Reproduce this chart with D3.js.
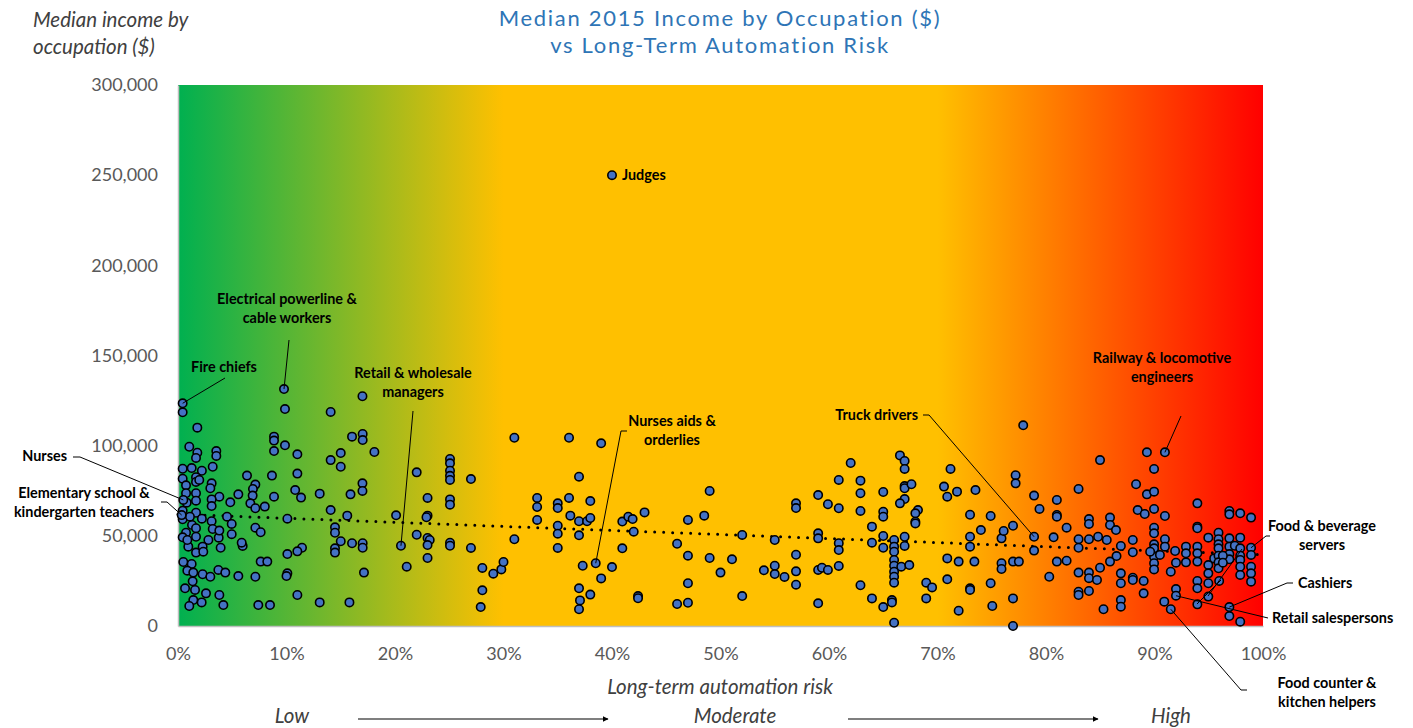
<!DOCTYPE html>
<html>
<head>
<meta charset="utf-8">
<script src="https://cdn.jsdelivr.net/npm/d3@7"></script>
<style>
  body { margin: 0; background: #fff; }
  text { font-family: Lato, "Open Sans", sans-serif; }
</style>
</head>
<body>
<script>
// [automation risk %, median income in $1000]
const lowRisk = [
  [0.43,123.5],[0.43,118.5],[9.77,131.4],[9.86,120.3],[17.0,127.4],[14.07,118.7],[1.78,110],[8.85,105],[8.85,102.8],[9.86,100.2],
  [8.85,97],[11.0,95.2],[3.53,97],[3.53,94.3],[1.78,96.1],[1.66,93.2],[1.04,99.4],[16.04,105],[17.02,106.5],[17.02,103.1],
  [18.1,96.5],[14.07,92],[15.0,95.9],[15.0,88.3],[3.2,88.3],[0.43,87.2],[1.26,87.6],[2.2,86.1],[0.43,81.7],[1.66,82.5],
  [1.66,79.9],[1.96,81],[0.74,78],[3.1,79.1],[2.98,76.4],[6.36,83.4],[8.66,83.4],[11.0,84.5],[7.13,78.4],[6.91,76],
  [10.8,75.4],[11.34,71.2],[13.06,73.4],[15.9,73],[17.0,79.1],[17.0,74.9],[8.85,71.7],[6.88,72.3],[5.56,73],[3.81,71.7],
  [3.1,70.2],[3.1,66.5],[0.74,73.6],[1.66,73.6],[0.8,68.4],[1.66,69.5],[4.82,68.6],[6.67,68],[7.13,65.3],[8.0,66.2],
  [14.07,64.3],[0.43,63.9],[1.66,62.8],[4.52,60.6],[10.08,59.5],[15.6,61.2],[20.1,61.4],[0.43,59.2],[2.2,59.5],[3.1,58.1],
  [4.95,56.6],[1.29,56],[1.66,54.2],[3.2,53.8],[7.13,54.5],[7.62,52],[14.47,54.7],[14.47,51.7],[0.74,51.7],[1.66,49.5],
  [0.43,49.2],[2.8,47.7],[3.75,49],[4.95,50.9],[0.95,44],[2.27,44],[3.93,43.4],[5.96,44.4],[5.87,46.2],[15.0,47],
  [16.04,45.9],[17.02,45.9],[17.02,43.4],[14.47,43.1],[14.47,40.7],[11.43,43.4],[11.0,41.4],[10.08,39.9],[1.66,40.7],[2.33,41.2],
  [0.49,35.5],[1.26,34.4],[0.86,30.7],[1.41,29.6],[7.62,35.7],[8.23,35.7],[2.27,28.7],[2.98,27.3],[3.72,31.1],[4.36,29.6],
  [5.56,27.7],[7.13,27.3],[10.08,29.2],[10.0,27.7],[17.14,29.6],[1.35,24.8],[0.65,20.9],[1.57,20],[2.58,18.1],[3.81,17.2],
  [11.0,17.2],[1.41,14.4],[1.04,11.1],[2.18,13.1],[4.18,11.6],[7.4,11.6],[8.48,11.6],[13.06,13.1],[15.8,13.1],
  [0.49,69.9],[1.1,60.6],[0.86,47.7],[3.81,52.9],[0.34,61.5],
  [20.55,44.5],[21.08,32.9],[22.0,85.2],[22.0,50.6],[23.0,71],[23.0,61.2],[22.9,60.3],[23.0,48.8],[23.2,47.7],[23.0,44.9],
  [23.0,37.7],[25.07,92.6],[25.07,90.2],[25.07,86.1],[25.07,83.3],[25.07,81],[25.07,70.2],[25.07,67.3],[25.07,46.2],[25.07,44.5],
  [27.0,81.5],[27.0,43.3],[28.05,32.2],[28.05,19.8],[27.9,10.5],[29.06,29]
];

const moderateRisk = [
  [29.8,31.4],[30.0,35.5],[31.0,104.4],[31.0,48.1],[33.1,71],[33.1,66],[33.1,58.8],[35.0,68],[35.0,65.4],[35.0,55.6],
  [35.0,51.2],[35.0,43.3],[36.04,104.4],[36.04,71],[36.16,61.2],[36.96,82.8],[36.96,58.1],[36.96,50.3],[37.7,58.1],[38.0,69.3],
  [38.0,59.9],[39.0,101.3],[37.3,33.4],[38.5,34.8],[39.0,26.4],[40.0,32.7],[36.96,20.9],[38.0,17.4],[37.05,14.2],[36.96,9.3],
  [40.0,250],
  [40.95,57.9],[41.5,60.6],[41.9,59.3],[42.0,52.3],[40.95,43.1],[43.0,63],[42.4,16.6],[42.4,15.4],[46.0,45.6],[46.0,12.2],
  [47.0,58.8],[47.0,39],[47.0,23.7],[47.0,12.9],[48.5,61.2],[49.0,74.9],[49.0,37.7],[50.0,29.6],[51.06,37],[52.0,50.5],
  [52.0,16.6],[54.0,30.9],[55.0,47.7],[55.0,33.4],[55.0,28.8],[55.9,27.2],[56.96,68],[56.96,65.4],[56.96,39.5],[56.96,30.3],
  [56.96,22.9],
  [59.0,72.6],[59.9,67.5],[60.9,81],[60.9,65.3],[59.0,51.4],[59.0,48.6],[59.0,31.1],[59.35,32.3],[59.9,31.1],[59.0,12.6],
  [60.9,45.9],[60.9,42.1],[60.9,33.3],
  [62.0,90.4],[62.9,80.6],[62.9,73.6],[62.9,63.8],[62.9,22.6],[63.96,55.1],[63.96,46.2],[63.96,15.3],[65.0,74.3],[65.0,63.4],
  [65.0,60.6],[65.0,49.9],[65.0,43.4],[65.0,10.5],[65.8,14.4],[65.8,13.1],[66.54,94.6],[66.97,91.5],[66.97,87.1],[66.97,77.6],
  [66.97,76.4],[67.6,78.6],[66.97,70.4],[66.54,68],[68.2,64.3],[67.96,62.5],[67.96,57.8],[67.96,56.9],[66.0,47.7],[66.0,44],
  [66.0,41.2],[66.0,36.6],[66.0,33.4],[66.0,30.1],[66.0,27.3],[66.0,24],[66.97,49.5],[66.97,44.4],[66.66,32.9],[67.4,33.8],
  [66.0,1.8],[68.96,24],[69.5,21.4],[68.96,15.3]
];

const highRisk = [
  [70.6,77.3],[70.9,71.7],[71.2,87.1],[71.8,74.5],[73.5,75.4],[70.9,37.5],[70.9,25.9],[71.95,35.7],[71.95,8.5],[73.0,61.7],
  [73.0,49.5],[73.0,44],[73.4,35.7],[73.0,20.9],[73.0,20],[74.0,53.2],[74.9,61],[74.9,23.7],[75.05,11.1],[75.9,48.6],
  [75.9,34.8],[75.9,31.6],[76.1,52.7],[76.96,55.6],[77.2,83.6],[77.2,79.1],[76.96,35.7],[77.5,35.7],[76.96,15.3],[76.96,0],
  [77.9,111.3],[78.9,72.3],[79.4,64.9],[78.9,49.5],[78.9,41.8],[80.3,27.3],[80.7,49.2],[81.0,69.9],[81.0,61.6],[81.0,60.6],
  [81.0,35.7],
  [81.9,54.5],[81.9,36.2],[83.0,76],[83.0,48.1],[83.0,43.4],[83.0,29.6],[83.0,19],[83.0,17.2],[83.96,59.3],[83.96,56.6],
  [83.96,48.1],[83.96,29.6],[83.96,26.5],[83.96,19.4],[84.7,25.5],[84.8,49.5],[84.98,92],[84.98,32.3],[85.3,9.3],[85.6,47.7],
  [85.9,60.1],[85.9,56],[86.45,53.2],[85.9,35.7],[86.5,38.8],[86.9,44.4],[86.9,29.2],[86.9,23.7],[86.9,14.4],[86.9,10.7],
  [88.0,47.7],[88.0,40.9],[88.0,26.8],[88.0,25.5],[88.3,78.6],[88.45,64.3],[89.1,62.1],[89.0,25],[89.0,18.1],[89.3,96.3],
  [89.3,73],[89.96,87.1],[89.96,74.5],[89.96,64.9],[89.96,54.5],[89.96,51.4],[89.96,45.3],[89.96,43.1],[89.96,38.4],[89.96,34.8],
  [89.96,31.4],[89.6,41.2],[90.5,39.4],[90.96,96.3],[90.96,61],[90.96,48.1],[90.96,44],[90.9,13.5],[91.5,30.1],[91.5,9.3],
  [91.9,41.6],[91.98,35.1],[91.98,20.5],[91.98,16.8],[92.9,44],[92.9,40.3],[92.9,35.3],[93.95,68],[93.95,55.1],[93.95,54.2],
  [93.95,44],[93.95,40.3],[93.95,35.7],[93.95,25],[93.95,20.9],[93.95,12],[94.96,49],[94.96,33.8],[94.96,29.2],[94.96,23.7],
  [94.96,16.3],[95.5,37.5],[95.9,51.7],[95.9,48.1],[95.9,45.3],[95.9,43.1],[95.9,39],[95.9,35.3],[95.9,32],[95.96,25],
  [96.9,63.8],[96.9,61.9],[96.9,48.6],[96.9,44],[96.9,39.9],[96.9,37],[96.3,39],[96.3,35.1],[97.4,44.5],[96.9,10.5],
  [96.9,5.5],[97.9,62.5],[97.9,49],[97.9,43.1],[97.9,39],[97.9,36.6],[97.9,32.9],[97.9,28.3],[97.9,2.4],[98.9,60.1],
  [98.9,43.4],[98.9,39.4],[98.9,32.9],[98.9,29.2],[98.9,24.6]
];

// linear trend: [risk %, income $1000]
const trend = [[0, 62], [100, 39.5]];

const yTicks = [0, 50000, 100000, 150000, 200000, 250000, 300000];
const xTicks = [0, 10, 20, 30, 40, 50, 60, 70, 80, 90, 100];
const bands = ['Low', 'Moderate', 'High'];

// labelled occupations: the point they refer to
const labelled = [
  { name: ['Fire chiefs'], risk: 0.43, income: 123.5 },
  { name: ['Electrical powerline &', 'cable workers'], risk: 9.77, income: 131.4 },
  { name: ['Retail & wholesale', 'managers'], risk: 20.55, income: 44.5 },
  { name: ['Nurses'], risk: 0.49, income: 69.9 },
  { name: ['Elementary school &', 'kindergarten teachers'], risk: 0.34, income: 61.5 },
  { name: ['Judges'], risk: 40.0, income: 250 },
  { name: ['Nurses aids &', 'orderlies'], risk: 38.5, income: 34.8 },
  { name: ['Truck drivers'], risk: 78.9, income: 49.5 },
  { name: ['Railway & locomotive', 'engineers'], risk: 90.96, income: 96.3 },
  { name: ['Food & beverage', 'servers'], risk: 98.9, income: 43.4 },
  { name: ['Cashiers'], risk: 96.9, income: 10.5 },
  { name: ['Retail salespersons'], risk: 91.98, income: 16.8 },
  { name: ['Food counter &', 'kitchen helpers'], risk: 91.5, income: 9.3 }
];

// where each label sits and how its leader bends (pixels)
const labelLayout = [
  { x: 224, y: 367, anchor: 'middle', leader: [[225, 378]] },
  { x: 287, y: 299, anchor: 'middle', leader: [[289, 340]] },
  { x: 413, y: 373, anchor: 'middle', leader: [[413, 411]] },
  { x: 67, y: 456, anchor: 'end', leader: [[73, 457], [80, 457]] },
  { x: 84, y: 493, anchor: 'middle', leader: [[161, 502], [167, 502]] },
  { x: 622, y: 175, anchor: 'start', leader: null },
  { x: 672, y: 421, anchor: 'middle', leader: [[627, 431], [621, 431]] },
  { x: 918, y: 415, anchor: 'end', leader: [[923, 415], [929, 415]] },
  { x: 1162, y: 358, anchor: 'middle', leader: [[1181, 416]] },
  { x: 1322, y: 526, anchor: 'middle', leader: [[1270, 536], [1266, 536]] },
  { x: 1298, y: 583, anchor: 'start', leader: [[1293, 583], [1287, 583]] },
  { x: 1272, y: 618, anchor: 'start', leader: [[1268, 618]] },
  { x: 1327, y: 683, anchor: 'middle', leader: [[1247, 690], [1241, 690]] }
];

const svgWidth = 1413;
const svgHeight = 728;
const plot = { left: 178, right: 1263, top: 85, bottom: 626 };

const svg = d3.select('body')
              .append('svg')
              .attr('width', svgWidth)
              .attr('height', svgHeight);

const scaleX = d3.scaleLinear().domain([0, 100]).range([plot.left, plot.right]);
const scaleY = d3.scaleLinear().domain([0, 300000]).range([plot.bottom, plot.top]);

// background gradient green -> amber -> red
const grad = svg.append('defs')
                .append('linearGradient')
                .attr('id', 'riskGrad')
                .attr('x1', 0).attr('x2', 1).attr('y1', 0).attr('y2', 0);
[[0, '#00B050'], [0.3, '#FFC000'], [0.7, '#FFC000'], [1, '#FF0000']].forEach(s => {
  grad.append('stop').attr('offset', s[0]).attr('stop-color', s[1]);
});

svg.append('rect')
   .attr('x', plot.left)
   .attr('y', plot.top)
   .attr('width', plot.right - plot.left)
   .attr('height', plot.bottom - plot.top)
   .attr('fill', 'url(#riskGrad)');

// axes
const yAxis = svg.append('g')
                 .attr('transform', `translate(${plot.left},0)`)
                 .call(d3.axisLeft(scaleY).tickValues(yTicks).tickFormat(d3.format(',')).tickSize(0).tickPadding(20));
const xAxis = svg.append('g')
                 .attr('transform', `translate(0,${plot.bottom})`)
                 .call(d3.axisBottom(scaleX).tickValues(xTicks).tickFormat(d => d + '%').tickSize(0).tickPadding(21));
[yAxis, xAxis].forEach(a => {
  a.select('.domain').attr('stroke', '#bfbfbf').attr('stroke-width', 1.5);
  a.selectAll('text').attr('fill', '#595959').style('font-size', '18px');
});

// trend line
svg.append('path')
   .datum(trend)
   .attr('d', d3.line().x(d => scaleX(d[0])).y(d => scaleY(d[1] * 1000)))
   .attr('fill', 'none')
   .attr('stroke', '#000')
   .attr('stroke-width', 3)
   .attr('stroke-linecap', 'round')
   .attr('stroke-dasharray', '0 9');

// points
const dataset = lowRisk.concat(moderateRisk, highRisk);
svg.append('g')
   .selectAll('circle')
   .data(dataset)
   .enter()
   .append('circle')
   .attr('cx', d => scaleX(d[0]))
   .attr('cy', d => scaleY(d[1] * 1000))
   .attr('r', 4.2)
   .attr('fill', '#4472C4')
   .attr('stroke', '#000')
   .attr('stroke-width', 1.6);

// extra stray leader strokes in the dense right cluster
svg.append('g')
   .selectAll('line')
   .data([[[1197, 604], [1221, 580]], [[1208, 596], [1242, 549]]])
   .enter()
   .append('line')
   .attr('x1', d => d[0][0]).attr('y1', d => d[0][1])
   .attr('x2', d => d[1][0]).attr('y2', d => d[1][1])
   .attr('stroke', '#000')
   .attr('stroke-width', 1);

// labels with leaders
const lineGen = d3.line();
labelled.forEach((lab, i) => {
  const lay = labelLayout[i];
  const px = scaleX(lab.risk), py = scaleY(lab.income * 1000);
  if (lay.leader) {
    svg.append('path')
       .attr('d', lineGen(lay.leader.concat([[px, py]])))
       .attr('fill', 'none')
       .attr('stroke', '#000')
       .attr('stroke-width', 1);
  }
  const t = svg.append('text')
               .attr('text-anchor', lay.anchor)
               .attr('font-weight', 'bold')
               .style('font-size', '14.4px')
               .attr('fill', '#000');
  lab.name.forEach((ln, j) => {
    t.append('tspan')
     .attr('x', lay.x)
     .attr('y', lay.y + j * 19)
     .attr('dy', '0.35em')
     .text(ln);
  });
});

// titles
const titleLines = ['Median 2015 Income by Occupation ($)', 'vs Long-Term Automation Risk'];
titleLines.forEach((ln, j) => {
  svg.append('text')
     .attr('x', 720)
     .attr('y', 18 + j * 27)
     .attr('dy', '0.35em')
     .attr('text-anchor', 'middle')
     .attr('fill', '#2E75B6')
     .style('font-size', '22px')
     .style('letter-spacing', '1.7px')
     .text(ln);
});

const yTitle = svg.append('text')
                  .attr('fill', '#404040')
                  .style('font-style', 'italic')
                  .style('font-size', '20.5px');
['Median income by', 'occupation ($)'].forEach((ln, j) => {
  yTitle.append('tspan').attr('x', 33).attr('y', 20 + j * 27).attr('dy', '0.35em').text(ln);
});

svg.append('text')
   .attr('x', 720).attr('y', 687).attr('dy', '0.35em')
   .attr('text-anchor', 'middle')
   .attr('fill', '#404040')
   .style('font-style', 'italic')
   .style('font-size', '20.5px')
   .text('Long-term automation risk');

// Low -> Moderate -> High
const bandX = [292, 735, 1171];
svg.append('defs').append('marker')
   .attr('id', 'arrowHead')
   .attr('viewBox', '0 0 10 10')
   .attr('refX', 9).attr('refY', 5)
   .attr('markerWidth', 5).attr('markerHeight', 5)
   .attr('orient', 'auto')
   .append('path').attr('d', 'M0,0L10,5L0,10z').attr('fill', '#000');

bands.forEach((b, i) => {
  svg.append('text')
     .attr('x', bandX[i]).attr('y', 716).attr('dy', '0.35em')
     .attr('text-anchor', 'middle')
     .attr('fill', '#404040')
     .style('font-style', 'italic')
     .style('font-size', '20.5px')
     .text(b);
});
[[358, 608], [848, 1098]].forEach(a => {
  svg.append('line')
     .attr('x1', a[0]).attr('x2', a[1])
     .attr('y1', 719).attr('y2', 719)
     .attr('stroke', '#000')
     .attr('stroke-width', 1.2)
     .attr('marker-end', 'url(#arrowHead)');
});
</script>
</body>
</html>
